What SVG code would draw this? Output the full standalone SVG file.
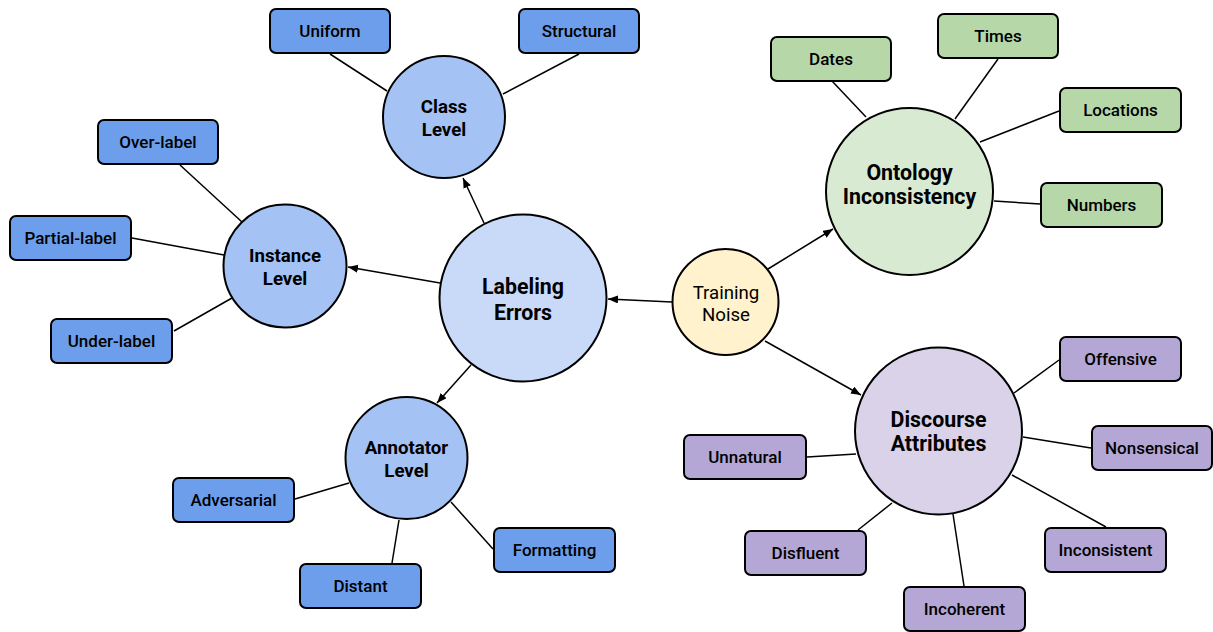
<svg xmlns="http://www.w3.org/2000/svg" width="1213" height="632" viewBox="0 0 1213 632">
<defs>
<marker id="arrow" markerUnits="userSpaceOnUse" markerWidth="12" markerHeight="10" refX="10" refY="4" orient="auto">
<path d="M0,0 L10,4 L0,8 Z" fill="#000"/>
</marker>
<style>
.bg{fill:#ffffff}
.line{stroke:#000;stroke-width:1.5;fill:none}
.arr{stroke:#000;stroke-width:1.5;fill:none;marker-end:url(#arrow)}
.c{stroke:#000;stroke-width:2}
.b{stroke:#000;stroke-width:2}
.blue{fill:#6d9eeb}
.lblue{fill:#a4c2f4}
.llblue{fill:#c9daf8}
.yellow{fill:#fff2cc}
.green{fill:#b6d7a8}
.lgreen{fill:#d9ead3}
.purple{fill:#b4a7d6}
.lpurple{fill:#d9d2e9}
.bt{font-family:Roboto,"Liberation Sans",sans-serif;font-size:17px;font-weight:500;fill:#000;text-anchor:middle}
.ct{font-family:Roboto,"Liberation Sans",sans-serif;font-size:18.67px;font-weight:700;fill:#000;text-anchor:middle}
.bt2{font-family:Roboto,"Liberation Sans",sans-serif;font-size:21.33px;font-weight:700;fill:#000;text-anchor:middle}
.rt{font-family:Roboto,"Liberation Sans",sans-serif;font-size:18.67px;font-weight:400;fill:#000;text-anchor:middle}
</style>
</defs>
<rect class="bg" x="0" y="0" width="1213" height="632"/>
<g id="connectors">
<line class="arr" x1="672" y1="302" x2="608" y2="299"/>
<line class="arr" x1="768" y1="269" x2="833" y2="229"/>
<line class="arr" x1="765" y1="341" x2="861" y2="395"/>
<line class="arr" x1="484" y1="223" x2="463" y2="178"/>
<line class="arr" x1="440" y1="283" x2="348" y2="267"/>
<line class="arr" x1="471" y1="365" x2="437" y2="403"/>
<line class="line" x1="330" y1="54" x2="387" y2="91"/>
<line class="line" x1="579" y1="54" x2="503" y2="94"/>
<line class="line" x1="180" y1="165" x2="242" y2="222"/>
<line class="line" x1="132" y1="238" x2="224" y2="255"/>
<line class="line" x1="174" y1="331" x2="232" y2="298"/>
<line class="line" x1="295" y1="499" x2="349" y2="483"/>
<line class="line" x1="392" y1="563" x2="399" y2="520"/>
<line class="line" x1="493" y1="549" x2="451" y2="502"/>
<line class="line" x1="832" y1="81" x2="866" y2="117"/>
<line class="line" x1="998" y1="59" x2="955" y2="119"/>
<line class="line" x1="1059" y1="111" x2="980" y2="142"/>
<line class="line" x1="1040" y1="204" x2="994" y2="201"/>
<line class="line" x1="1059" y1="360" x2="1014" y2="393"/>
<line class="line" x1="1091" y1="448" x2="1023" y2="437"/>
<line class="line" x1="1106" y1="527" x2="1012" y2="475"/>
<line class="line" x1="964" y1="586" x2="953" y2="514"/>
<line class="line" x1="858" y1="530" x2="892" y2="503"/>
<line class="line" x1="807" y1="457" x2="856" y2="454"/>
</g>
<g id="labeling-errors"><circle class="c llblue" cx="523" cy="298" r="83.5"/><text class="bt2" x="523" y="294">Labeling</text><text class="bt2" x="523" y="320">Errors</text></g>
<g id="training-noise"><circle class="c yellow" cx="725.5" cy="302" r="53"/><text class="rt" x="726" y="299">Training</text><text class="rt" x="726" y="321">Noise</text></g>
<g id="class-level"><circle class="c lblue" cx="444" cy="117" r="61"/><text class="ct" x="444" y="113">Class</text><text class="ct" x="444" y="136">Level</text></g>
<g id="instance-level"><circle class="c lblue" cx="285" cy="266" r="61.5"/><text class="ct" x="285" y="262">Instance</text><text class="ct" x="285" y="284.5">Level</text></g>
<g id="annotator-level"><circle class="c lblue" cx="406.5" cy="458" r="61"/><text class="ct" x="406.5" y="454">Annotator</text><text class="ct" x="406.5" y="476.5">Level</text></g>
<g id="ontology-inconsistency"><circle class="c lgreen" cx="909.5" cy="191.5" r="83.5"/><text class="bt2" x="909.5" y="180">Ontology</text><text class="bt2" x="909.5" y="204">Inconsistency</text></g>
<g id="discourse-attributes"><circle class="c lpurple" cx="938.5" cy="431" r="83.5"/><text class="bt2" x="938.5" y="427">Discourse</text><text class="bt2" x="938.5" y="451">Attributes</text></g>
<g id="uniform"><rect class="b blue" x="270" y="9" width="120" height="44" rx="6"/><text class="bt" x="330" y="37">Uniform</text></g>
<g id="structural"><rect class="b blue" x="519" y="9" width="120" height="44" rx="6"/><text class="bt" x="579" y="37">Structural</text></g>
<g id="over-label"><rect class="b blue" x="98" y="120" width="120" height="44" rx="6"/><text class="bt" x="158" y="148">Over-label</text></g>
<g id="partial-label"><rect class="b blue" x="10" y="216" width="121" height="44" rx="6"/><text class="bt" x="70.5" y="244">Partial-label</text></g>
<g id="under-label"><rect class="b blue" x="51" y="319" width="121" height="44" rx="6"/><text class="bt" x="111.5" y="347">Under-label</text></g>
<g id="adversarial"><rect class="b blue" x="173" y="478" width="121" height="44" rx="6"/><text class="bt" x="233.5" y="506">Adversarial</text></g>
<g id="distant"><rect class="b blue" x="300" y="564" width="121" height="44" rx="6"/><text class="bt" x="360.5" y="592">Distant</text></g>
<g id="formatting"><rect class="b blue" x="494" y="528" width="121" height="44" rx="6"/><text class="bt" x="554.5" y="556">Formatting</text></g>
<g id="dates"><rect class="b green" x="771" y="37" width="120" height="44" rx="6"/><text class="bt" x="831" y="65">Dates</text></g>
<g id="times"><rect class="b green" x="938" y="14" width="120" height="44" rx="6"/><text class="bt" x="998" y="42">Times</text></g>
<g id="locations"><rect class="b green" x="1060" y="88" width="121" height="44" rx="6"/><text class="bt" x="1120.5" y="116">Locations</text></g>
<g id="numbers"><rect class="b green" x="1041" y="183" width="121" height="44" rx="6"/><text class="bt" x="1101.5" y="211">Numbers</text></g>
<g id="offensive"><rect class="b purple" x="1060" y="337" width="121" height="44" rx="6"/><text class="bt" x="1120.5" y="365">Offensive</text></g>
<g id="nonsensical"><rect class="b purple" x="1092" y="426" width="120" height="44" rx="6"/><text class="bt" x="1152" y="454">Nonsensical</text></g>
<g id="unnatural"><rect class="b purple" x="684" y="435" width="122" height="44" rx="6"/><text class="bt" x="745" y="463">Unnatural</text></g>
<g id="disfluent"><rect class="b purple" x="745" y="531" width="121" height="44" rx="6"/><text class="bt" x="805.5" y="559">Disfluent</text></g>
<g id="incoherent"><rect class="b purple" x="904" y="587" width="121" height="44" rx="6"/><text class="bt" x="964.5" y="615">Incoherent</text></g>
<g id="inconsistent"><rect class="b purple" x="1045" y="528" width="121" height="44" rx="6"/><text class="bt" x="1105.5" y="556">Inconsistent</text></g>
</svg>
